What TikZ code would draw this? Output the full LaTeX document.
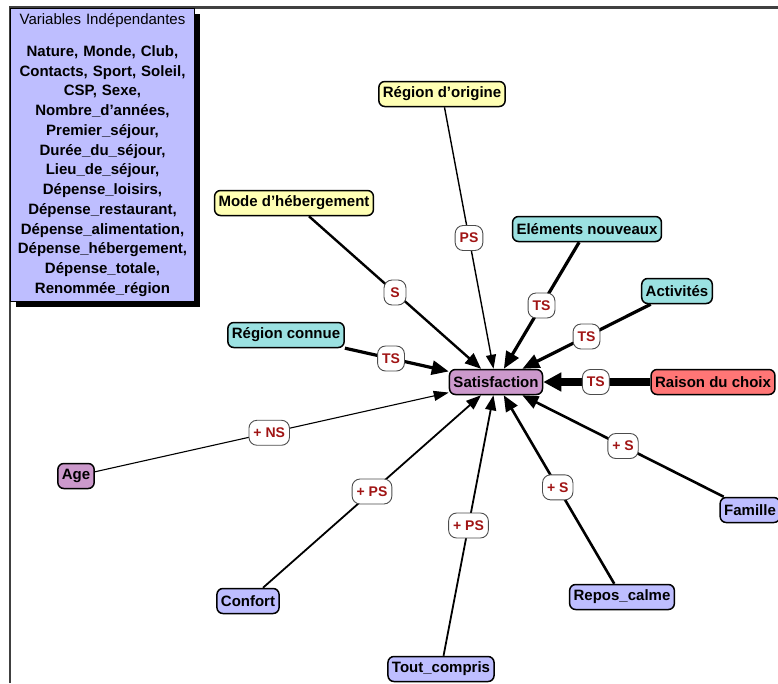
\documentclass[tikz,border=0pt]{standalone}
\usepackage{fontspec}
\setmainfont{Liberation Sans}
\usetikzlibrary{arrows.meta,calc}
\begin{document}
\begin{tikzpicture}[x=1pt, y=-1pt,
  var/.style={draw=black, line width=1.5pt, rounded corners=6pt, inner xsep=4pt, inner ysep=0pt,
    minimum height=25pt, font=\fontsize{15}{18}\selectfont\bfseries},
  lbl/.style={draw=black!70, fill=white, line width=0.9pt, rounded corners=8pt, inner xsep=4.5pt,
    inner ysep=0pt, minimum height=25pt, minimum width=22pt, text=LabelRed,
    font=\fontsize{14}{16}\selectfont\bfseries}]
\definecolor{MyYellow}{RGB}{255, 255, 180}
\definecolor{MyCyan}{RGB}{155, 225, 225}
\definecolor{MyPurple}{RGB}{204, 153, 204}
\definecolor{MyRed}{RGB}{255, 118, 118}
\definecolor{MyBlue}{RGB}{190, 190, 255}
\definecolor{LabelRed}{RGB}{160, 20, 20}
\useasboundingbox (0,0) rectangle (778,683);
\draw[black!75, line width=2.5pt] (10,683) -- (10,7.5) -- (778,7.5);
% box of the independent variables
\fill[black] (16,14) rectangle (200,307);
\node[draw=black, line width=1pt, fill=MyBlue, anchor=north west, minimum width=184pt,
  minimum height=293pt, text width=180pt, align=center, inner sep=2pt,
  font=\fontsize{15}{19.75}\selectfont\bfseries] (vars) at (10,8)
  {{\mdseries Variables Indépendantes}\\[12pt]
   Nature, Monde, Club,\\ Contacts, Sport, Soleil,\\ CSP, Sexe,\\ Nombre\_d'années,\\
   Premier\_séjour,\\ Durée\_du\_séjour,\\ Lieu\_de\_séjour,\\ Dépense\_loisirs,\\
   Dépense\_restaurant,\\ Dépense\_alimentation,\\ Dépense\_hébergement,\\
   Dépense\_totale,\\ Renommée\_région};
% variables
\node[var, fill=MyYellow] (origine) at (442,94) {Région d'origine};
\node[var, fill=MyYellow] (mode) at (294,203) {Mode d'hébergement};
\node[var, fill=MyCyan] (elements) at (587,229) {Eléments nouveaux};
\node[var, fill=MyCyan] (activites) at (677,291) {Activités};
\node[var, fill=MyCyan] (connue) at (286,335) {Région connue};
\node[var, fill=MyPurple] (satis) at (496,382) {Satisfaction};
\node[var, fill=MyRed] (raison) at (713,382) {Raison du choix};
\node[var, fill=MyPurple] (age) at (76,476) {Age};
\node[var, fill=MyBlue] (famille) at (750,510) {Famille};
\node[var, fill=MyBlue] (confort) at (248,601) {Confort};
\node[var, fill=MyBlue] (repos) at (622,597) {Repos\_calme};
\node[var, fill=MyBlue] (tout) at (441,669) {Tout\_compris};
% links to the satisfaction
\foreach \src/\lab/\w/\t/\tl/\tw in {origine/PS/1.4/0.5/14/10, mode/S/2.4/0.5/16/13,
  elements/TS/3.2/0.5/17/14, activites/TS/3.2/0.5/17/14, connue/TS/3.2/0.5/17/14,
  raison/TS/8/0.54/18/18, age/+ NS/1.1/0.46/15/10, confort/+ PS/1.8/0.5/15/11,
  tout/+ PS/1.8/0.5/15/11, repos/+ S/2.6/0.51/16/13, famille/+ S/2.6/0.5/16/13}{
\draw[line width=\w pt, -{Triangle[length=\tl pt, width=\tw pt]}] (\src) -- (satis);
\node[lbl] (l-\src) at ($(\src)!\t!(satis)$) {\lab};
}
\end{tikzpicture}
\end{document}
